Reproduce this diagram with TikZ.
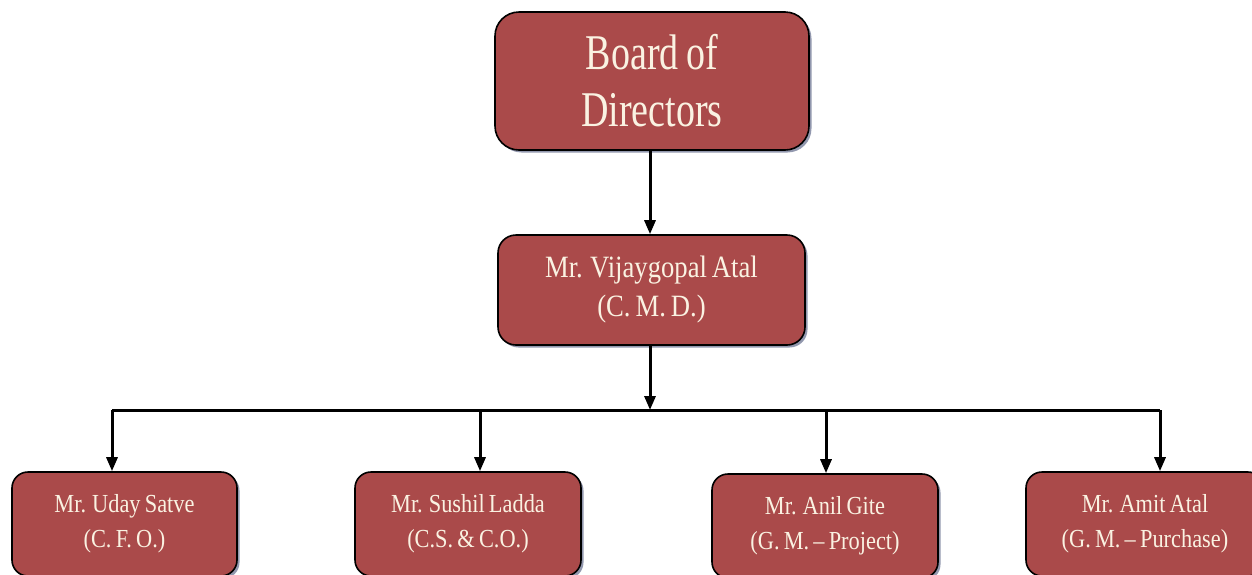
\documentclass[tikz,border=0pt]{standalone}
\usepackage{fontspec}
\setmainfont{Liberation Serif}[FakeStretch=0.86, WordSpace=0.75]
\newfontfamily\boardfont{Liberation Serif}[FakeStretch=0.76, WordSpace=0.8]
\usetikzlibrary{arrows.meta,shadows}
\definecolor{boxred}{RGB}{170,74,74}
\definecolor{cream}{RGB}{250,242,226}
\definecolor{shadowc}{RGB}{100,108,140}
\tikzset{
  orgbox/.style={draw=black, line width=1.6pt, fill=boxred, text=cream,
    align=center, inner sep=0pt, rounded corners=16pt,
    drop shadow={shadow xshift=2.5pt, shadow yshift=-2.5pt, fill=shadowc, opacity=0.7}},
  link/.style={line width=3pt, draw=black},
  arr/.style={link, -{Triangle[length=14pt,width=11pt]}},
  smalltext/.style={font=\fontsize{26}{35}\selectfont},
}
\begin{document}
\begin{tikzpicture}[x=1pt, y=-1pt]
\useasboundingbox (0,0) rectangle (1252,574);
\node[orgbox, rounded corners=24pt, minimum width=314pt, minimum height=138pt,
      font=\boardfont\fontsize{50}{57}\selectfont] (bod) at (652,81) {Board of\\Directors};
\node[orgbox, rounded corners=18pt, minimum width=307pt, minimum height=110pt,
      font=\fontsize{31}{39}\selectfont] (cmd) at (651.5,290) {Mr. Vijaygopal Atal\\(C. M. D.)};
\node[orgbox, smalltext, minimum width=225pt, minimum height=104pt] (uday) at (124.5,524) {Mr. Uday Satve\\(C. F. O.)};
\node[orgbox, smalltext, minimum width=226pt, minimum height=104pt] (sushil) at (468,524) {Mr. Sushil Ladda\\(C.S. \& C.O.)};
\node[orgbox, smalltext, minimum width=226pt, minimum height=104pt] (anil) at (825,526) {Mr. Anil Gite\\(G. M. -- Project)};
\node[orgbox, smalltext, minimum width=238pt, minimum height=104pt] (amit) at (1145,524) {Mr. Amit Atal\\(G. M. -- Purchase)};
\coordinate (bus) at (650,410);
\coordinate (b1) at (112,410);
\coordinate (b2) at (480,410);
\coordinate (b3) at (826,410);
\coordinate (b4) at (1160,410);
\draw[arr] (bod.south -| bus) -- (cmd.north -| bus);
\draw[arr] (cmd.south -| bus) -- (bus);
\draw[link] (b1) -- (b4);
\draw[arr] (b1) -- (b1 |- uday.north);
\draw[arr] (b2) -- (b2 |- sushil.north);
\draw[arr] (b3) -- (b3 |- anil.north);
\draw[arr] (b4) -- (b4 |- amit.north);
\end{tikzpicture}
\end{document}
